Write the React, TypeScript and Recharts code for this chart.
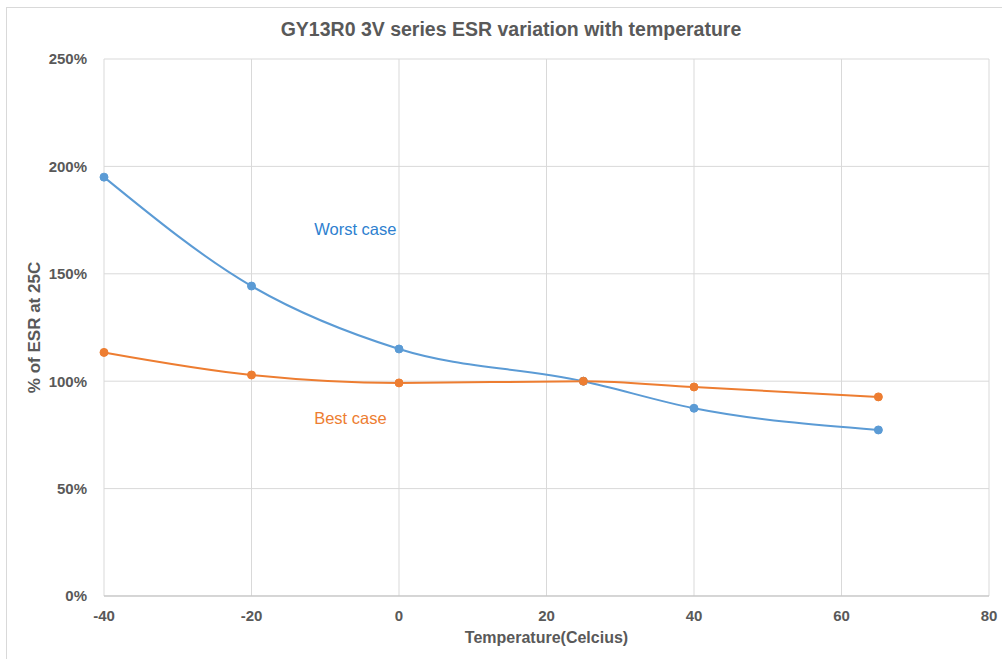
import React from "react";
import {
  LineChart,
  Line,
  XAxis,
  YAxis,
  CartesianGrid,
  ReferenceDot,
} from "recharts";

// temperature in Celsius and % of ESR at 25C
const temperatures = [-40, -20, 0, 25, 40, 65];
const worstCase = [195, 144.3, 115, 100, 87.4, 77.3];
const bestCase = [113.4, 102.9, 99.2, 100, 97.3, 92.7];

const xTicks = [-40, -20, 0, 20, 40, 60, 80];
const yTicks = [0, 50, 100, 150, 200, 250];

const data = temperatures.map((t, i) => ({
  temp: t,
  worst: worstCase[i],
  best: bestCase[i],
}));

const BLUE = "#5b9bd5";
const ORANGE = "#ed7d31";
const TEXT = "#595959";
const GRID = "#d9d9d9";
const FONT = "'Liberation Sans', Arial, sans-serif";

export default function App() {
  return (
    <div
      style={{
        position: "absolute",
        left: 0,
        top: 0,
        width: 1002,
        height: 659,
        background: "#fff",
        fontFamily: FONT,
        overflow: "hidden",
      }}
    >
      <div
        style={{
          position: "absolute",
          left: 6,
          top: 7,
          width: 1010,
          height: 670,
          borderTop: "1px solid #d9d9d9",
          borderLeft: "1px solid #d9d9d9",
        }}
      />
      <div
        style={{
          position: "absolute",
          top: 18,
          left: 0,
          width: 1022,
          textAlign: "center",
          fontSize: 19.5,
          fontWeight: "bold",
          color: TEXT,
        }}
      >
        GY13R0 3V series ESR variation with temperature
      </div>
      <div style={{ position: "absolute", left: 0, top: 0 }}>
        <LineChart
          width={1002}
          height={659}
          data={data}
          margin={{ top: 59, right: 13, left: 0, bottom: 0 }}
        >
          <CartesianGrid stroke={GRID} strokeWidth={1} />
          <XAxis
            dataKey="temp"
            type="number"
            domain={[-40, 80]}
            ticks={xTicks}
            height={63}
            axisLine={{ stroke: "#bfbfbf" }}
            tickLine={false}
            tickMargin={8}
            tick={{ fill: TEXT, fontSize: 15, fontWeight: "bold", fontFamily: FONT }}
            label={{
              value: "Temperature(Celcius)",
              position: "insideBottom",
              offset: 16,
              fill: TEXT,
              fontSize: 16,
              fontWeight: "bold",
              fontFamily: FONT,
            }}
          />
          <YAxis
            type="number"
            domain={[0, 250]}
            ticks={yTicks}
            width={104}
            axisLine={false}
            tickLine={false}
            tickMargin={11}
            tickFormatter={(v) => `${v}%`}
            tick={{ fill: TEXT, fontSize: 15, fontWeight: "bold", fontFamily: FONT }}
            label={{
              value: "% of ESR at 25C",
              angle: -90,
              position: "insideLeft",
              offset: 34,
              style: { textAnchor: "middle" },
              fill: TEXT,
              fontSize: 17,
              fontWeight: "bold",
              fontFamily: FONT,
            }}
          />
          <Line
            dataKey="worst"
            type="monotone"
            stroke={BLUE}
            strokeWidth={2}
            dot={{ r: 4, fill: BLUE, stroke: BLUE, strokeWidth: 1 }}
            isAnimationActive={false}
          />
          <Line
            dataKey="best"
            type="monotone"
            stroke={ORANGE}
            strokeWidth={2}
            dot={{ r: 4, fill: ORANGE, stroke: ORANGE, strokeWidth: 1 }}
            isAnimationActive={false}
          />
          <ReferenceDot
            x={-11.5}
            y={171}
            r={0}
            fill="none"
            stroke="none"
            label={{
              value: "Worst case",
              position: "right",
              offset: 0,
              fill: "#2e7fcf",
              fontSize: 16.5,
              fontFamily: FONT,
            }}
          />
          <ReferenceDot
            x={-11.5}
            y={83}
            r={0}
            fill="none"
            stroke="none"
            label={{
              value: "Best case",
              position: "right",
              offset: 0,
              fill: ORANGE,
              fontSize: 16.5,
              fontFamily: FONT,
            }}
          />
        </LineChart>
      </div>
    </div>
  );
}
